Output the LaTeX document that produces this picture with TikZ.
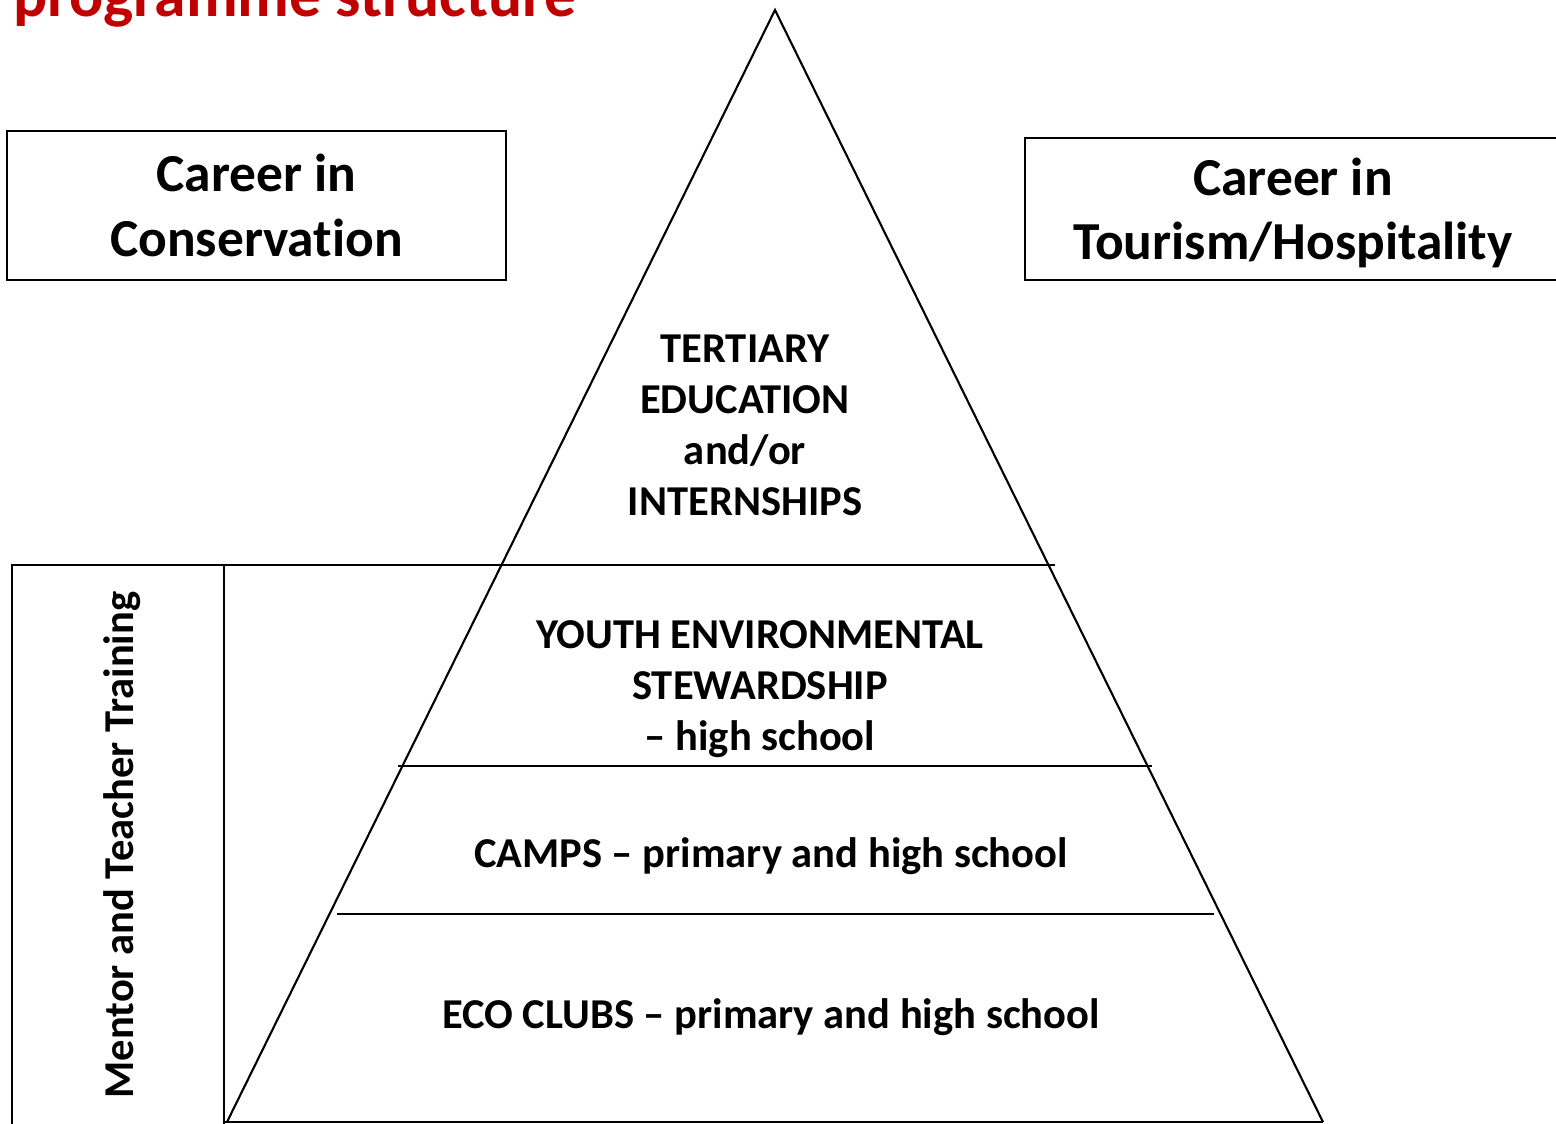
\documentclass[tikz,border=0pt]{standalone}
\usepackage{fontspec}
\setmainfont{Carlito}[Ligatures={TeX,NoCommon}]
\definecolor{titlered}{HTML}{C00000}

\begin{document}
\begin{tikzpicture}[x=0.01cm,y=-0.01cm,line width=0.6pt]
  \useasboundingbox (0,0) rectangle (1556,1124);
  % title, cut at the top edge
  \node[anchor=base west,inner sep=0,text=titlered,font=\bfseries\fontsize{18.1}{21}\selectfont] (title) at (12,17) {programme structure};
  % career boxes
  \begin{scope}[every node/.style={align=center,font=\bfseries\fontsize{15.2}{18.3}\selectfont}]
    \node[draw,minimum width=4.99cm,minimum height=1.49cm] (cons) at (256.5,205.5) {Career in\\Conservation};
    \draw (1600,138) -- (1025,138) -- (1025,280) -- (1600,280);
    \node (tour) at (1293,213) {Career in\\Tourism/Hospitality};
  \end{scope}
  % pyramid
  \coordinate (top) at (775,10);
  \coordinate (bl) at (227,1122);
  \coordinate (br) at (1323,1122);
  \draw (bl) -- (top) -- (br);
  \draw (224,1122) -- (br);
  \coordinate (l1) at (12,565);   \coordinate (r1) at (1055,565);
  \coordinate (l2) at (398,766);  \coordinate (r2) at (1152,766);
  \coordinate (l3) at (337,914);  \coordinate (r3) at (1214,914);
  \draw (12,1130) -- (l1) -- (r1);
  \draw (224,565) -- (224,1130);
  \draw (l2) -- (r2);
  \draw (l3) -- (r3);
  % level texts
  \begin{scope}[every node/.style={align=center,font=\bfseries\fontsize{12.1}{14.5}\selectfont}]
    \node (tert) at (745,425) {TERTIARY\\EDUCATION\\and/or\\INTERNSHIPS};
    \node (yes) at (760,689) {YOUTH ENVIRONMENTAL\\STEWARDSHIP\\-- high school};
    \node (camps) at (771,856) {CAMPS -- primary and high school};
    \node (eco) at (771,1017) {ECO CLUBS -- primary and high school};
    \node[rotate=90] (mentor) at (122,845) {Mentor and Teacher Training};
  \end{scope}
\end{tikzpicture}
\end{document}
